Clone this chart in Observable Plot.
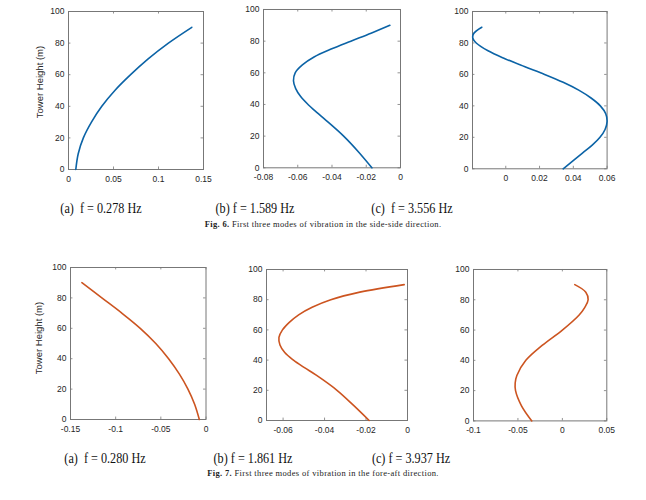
<!DOCTYPE html>
<html>
<head>
<meta charset="utf-8">
<script src="https://cdn.jsdelivr.net/npm/d3@7"></script>
<script src="https://cdn.jsdelivr.net/npm/@observablehq/plot@0.6"></script>
<style>
  html, body { margin: 0; padding: 0; background: #fff; }
  #root { position: relative; width: 646px; height: 500px; overflow: hidden; background: #fff; }
  .panel { position: absolute; }
  .sub { position: absolute; font-family: "Liberation Serif", "Times New Roman", serif; font-size: 14.5px; color: #111; white-space: pre; transform: translateX(-50%) scaleX(0.84); }
  .fig { position: absolute; font-family: "Liberation Serif", "Times New Roman", serif; font-size: 8.5px; letter-spacing: 0.35px; color: #222; white-space: pre; transform: translateX(-50%); }
  .ylab { position: absolute; font-family: "Liberation Sans", Arial, sans-serif; font-size: 9.5px; color: #262626; white-space: pre; transform: translate(-50%, -50%) rotate(-90deg); }
</style>
</head>
<body>
<div id="root"></div>
<script>
// Side-side modes (Fig. 6): heights (m) and lateral displacement
const ssMode1H = [0, 10, 20, 30, 40, 50, 60, 70, 80, 90];
const ssMode1 = [0.0081, 0.0108, 0.0165, 0.0255, 0.0370, 0.0515, 0.0690, 0.0885, 0.1110, 0.1370];
const ssMode2H = [0, 10, 20, 30, 35, 40, 45, 50, 55, 60, 65, 70, 75, 80, 85, 90];
const ssMode2 = [-0.0167, -0.0245, -0.0332, -0.0435, -0.0489, -0.0540, -0.0583, -0.0612, -0.0625, -0.0615, -0.0573, -0.0505, -0.0405, -0.0290, -0.0172, -0.0062];
const ssMode3H = [0, 10, 15, 20, 25, 30, 35, 40, 45, 50, 55, 60, 65, 70, 75, 80, 83, 86, 90];
const ssMode3 = [0.0340, 0.0454, 0.0512, 0.0558, 0.0588, 0.0600, 0.0592, 0.0560, 0.0505, 0.0432, 0.0340, 0.0230, 0.0110, -0.0005, -0.0105, -0.0175, -0.0195, -0.0190, -0.0142];

// Fore-aft modes (Fig. 7)
const faMode1H = [0, 10, 20, 30, 40, 50, 60, 70, 80, 90];
const faMode1 = [-0.0074, -0.0126, -0.0200, -0.0296, -0.0414, -0.0556, -0.0728, -0.0932, -0.1153, -0.1374];
const faMode2H = [0, 10, 20, 30, 35, 40, 45, 50, 55, 60, 65, 70, 75, 80, 85, 90];
const faMode2 = [-0.0185, -0.0260, -0.0340, -0.0440, -0.0497, -0.0550, -0.0592, -0.0615, -0.0620, -0.0603, -0.0570, -0.0525, -0.0460, -0.0370, -0.0230, -0.0016];
const faMode3H = [0, 10, 20, 25, 30, 40, 50, 60, 70, 75, 80, 85, 90];
const faMode3 = [-0.0344, -0.0460, -0.0527, -0.0531, -0.0512, -0.0411, -0.0224, 0.0000, 0.0189, 0.0253, 0.0290, 0.0264, 0.0140];

// Tick labels
const yTicks = [0, 20, 40, 60, 80, 100];
const xTicks1 = [0, 0.05, 0.1, 0.15];
const xTicks2 = [-0.08, -0.06, -0.04, -0.02, 0];
const xTicks3 = [0, 0.02, 0.04, 0.06];
const xTicks4 = [-0.15, -0.1, -0.05, 0];
const xTicks5 = [-0.06, -0.04, -0.02, 0];
const xTicks6 = [-0.1, -0.05, 0, 0.05];

const subCaptions6 = ["(a)  f = 0.278 Hz", "(b) f = 1.589 Hz", "(c)  f = 3.556 Hz"];
const subCaptions7 = ["(a)  f = 0.280 Hz", "(b) f = 1.861 Hz", "(c) f = 3.937 Hz"];
const figCaption6 = ["Fig. 6.", " First three modes of vibration in the side-side direction."];
const figCaption7 = ["Fig. 7.", " First three modes of vibration in the fore-aft direction."];
const yLabel = "Tower Height (m)";

const blue = "#0b63a6";
const orange = "#cc5420";

const root = document.getElementById("root");

function fmt(v) {
  if (v === 0) return "0";
  return String(+v.toFixed(3));
}

function panel(cfg) {
  const ml = 40, mr = 12, mt = 8, mb = 22;
  const data = cfg.h.map((h, i) => ({h, x: cfg.x[i]}));
  const [x0, x1] = cfg.xDomain;
  const xr = x1 - x0;
  const tickLenX = 0.018 * xr;
  const tickLenY = 1.6;
  const plot = Plot.plot({
    width: cfg.w + ml + mr,
    height: cfg.ht + mt + mb,
    marginLeft: ml, marginRight: mr, marginTop: mt, marginBottom: mb,
    style: {fontFamily: "'Liberation Sans', Arial, sans-serif", fontSize: "8.5px", color: "#262626", background: "transparent", overflow: "visible"},
    x: {domain: cfg.xDomain},
    y: {domain: [0, 100]},
    marks: [
      Plot.axisX(cfg.xTicks, {tickSize: 0, tickPadding: 6, tickFormat: fmt, label: null}),
      Plot.axisY(yTicks, {tickSize: 0, tickPadding: 4, label: null}),
      Plot.ruleX(cfg.xTicks, {x: d => d, y1: 0, y2: tickLenY, stroke: "#777", strokeWidth: 0.8}),
      Plot.ruleX(cfg.xTicks, {x: d => d, y1: 100 - tickLenY, y2: 100, stroke: "#777", strokeWidth: 0.8}),
      Plot.ruleY(yTicks, {y: d => d, x1: x0, x2: x0 + tickLenX, stroke: "#777", strokeWidth: 0.8}),
      Plot.ruleY(yTicks, {y: d => d, x1: x1 - tickLenX, x2: x1, stroke: "#777", strokeWidth: 0.8}),
      Plot.frame({stroke: "#777", strokeWidth: 1}),
      Plot.line(data, {x: "x", y: "h", stroke: cfg.color, strokeWidth: 1.6, curve: "catmull-rom"})
    ]
  });
  plot.classList.add("panel");
  plot.style.left = (cfg.left - ml) + "px";
  plot.style.top = (cfg.top - mt) + "px";
  root.appendChild(plot);
}

panel({left: 68.3, top: 11, w: 135, ht: 158, xDomain: [0, 0.15], xTicks: xTicks1, h: ssMode1H, x: ssMode1, color: blue});
panel({left: 263.3, top: 9, w: 137, ht: 158.3, xDomain: [-0.08, 0], xTicks: xTicks2, h: ssMode2H, x: ssMode2, color: blue});
panel({left: 471.7, top: 11, w: 134.6, ht: 157.3, xDomain: [-0.0197, 0.06], xTicks: xTicks3, h: ssMode3H, x: ssMode3, color: blue});
panel({left: 70, top: 266.5, w: 135.5, ht: 152, xDomain: [-0.15, 0], xTicks: xTicks4, h: faMode1H, x: faMode1, color: orange});
panel({left: 265.7, top: 269, w: 141, ht: 151, xDomain: [-0.068, 0], xTicks: xTicks5, h: faMode2H, x: faMode2, color: orange});
panel({left: 472.7, top: 269.3, w: 133.3, ht: 151.4, xDomain: [-0.1, 0.05], xTicks: xTicks6, h: faMode3H, x: faMode3, color: orange});

function addDiv(text, cx, cy, cls) {
  const d = document.createElement("div");
  d.className = cls;
  d.style.left = cx + "px";
  d.style.top = cy + "px";
  d.textContent = text;
  root.appendChild(d);
  return d;
}
addDiv(yLabel, 39, 82, "ylab");
addDiv(yLabel, 38, 338, "ylab");

const subX6 = [101, 255, 412];
const subX7 = [105, 253, 411];
subCaptions6.forEach((t, i) => addDiv(t, subX6[i], 200, "sub"));
subCaptions7.forEach((t, i) => addDiv(t, subX7[i], 450, "sub"));

function figCap(parts, cy) {
  const d = document.createElement("div");
  d.className = "fig";
  d.style.left = "323px";
  d.style.top = cy + "px";
  const b = document.createElement("b");
  b.textContent = parts[0];
  d.appendChild(b);
  d.appendChild(document.createTextNode(parts[1]));
  root.appendChild(d);
}
figCap(figCaption6, 218.5);
figCap(figCaption7, 467.5);
</script>
</body>
</html>
